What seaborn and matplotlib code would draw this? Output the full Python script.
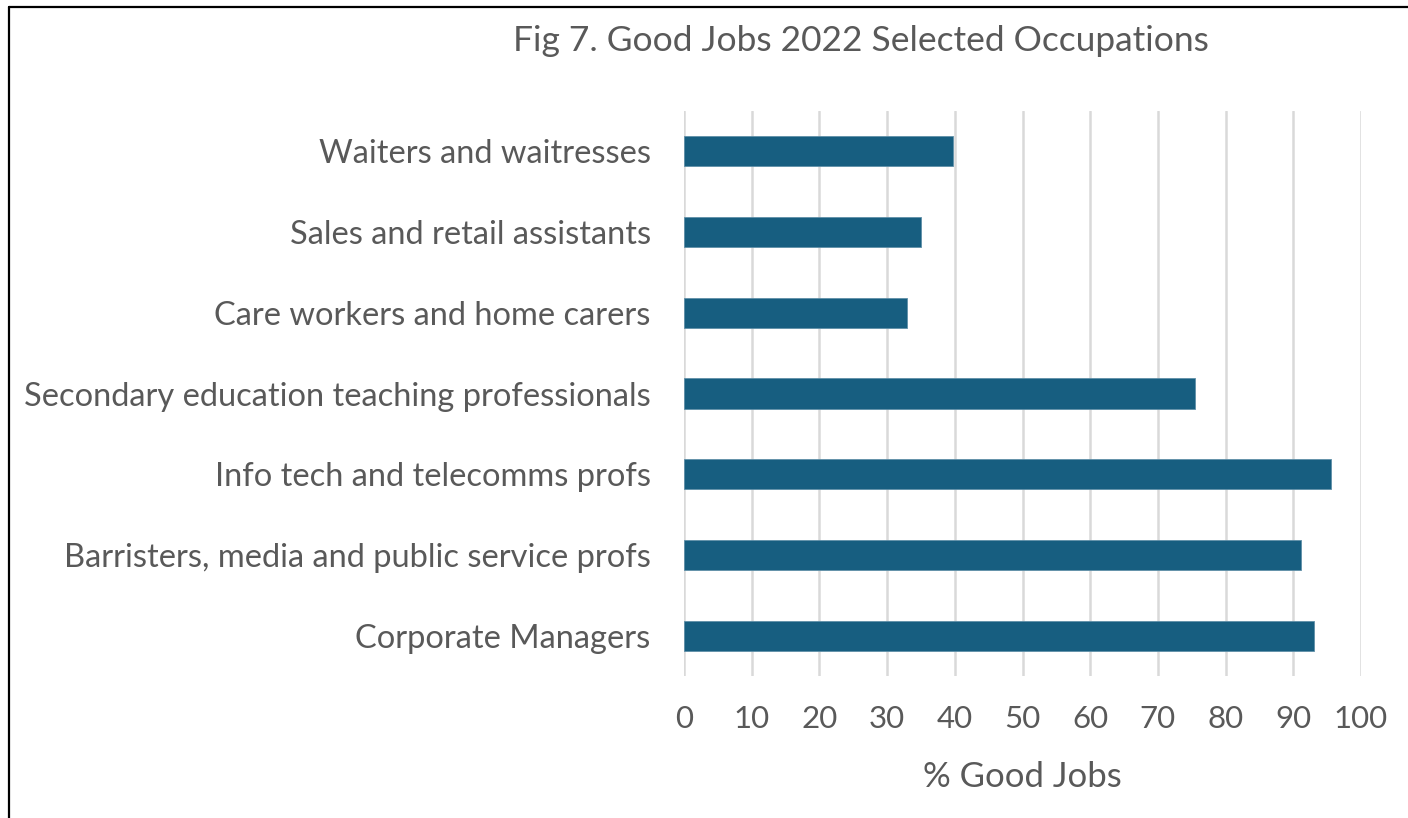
import pandas as pd
import matplotlib.pyplot as plt
from matplotlib.lines import Line2D
import seaborn as sns

# Chart data
occupations = [
    "Waiters and waitresses",
    "Sales and retail assistants",
    "Care workers and home carers",
    "Secondary education teaching professionals",
    "Info tech and telecomms profs",
    "Barristers, media and public service profs",
    "Corporate Managers",
]
good_jobs_pct = [39.7, 35.0, 32.9, 75.5, 95.6, 91.1, 93.1]
x_ticks = [0, 10, 20, 30, 40, 50, 60, 70, 80, 90, 100]

df = pd.DataFrame({"Occupation": occupations, "Good": good_jobs_pct})

sns.set_style("white")
plt.rcParams['font.family'] = ['Lato', 'DejaVu Sans']

text_grey = "#595959"
grid_grey = "#d9d9d9"
bar_blue = "#175e80"

fig = plt.figure(figsize=(14.08, 8.18), dpi=100)
ax = fig.add_axes([684 / 1408, 1 - 676 / 818, (1361 - 684) / 1408, (676 - 111) / 818])

sns.barplot(data=df, x="Good", y="Occupation", color=bar_blue, width=0.375,
            saturation=1, ax=ax, edgecolor="#5f8fa8", linewidth=0.6)

ax.set_xlim(0, 100)
ax.set_xticks(x_ticks)
ax.xaxis.grid(True, color=grid_grey, linewidth=1.8)
ax.set_axisbelow(True)
for s in ax.spines.values():
    s.set_visible(False)

ax.tick_params(axis="x", length=8, width=1.8, color=grid_grey, pad=13,
               labelsize=22.5, labelcolor=text_grey)
ax.tick_params(axis="y", length=0, pad=24, labelsize=23.5, labelcolor=text_grey)
ax.set_ylabel("")
ax.set_xlabel("% Good Jobs", fontsize=25, color=text_grey, labelpad=20)

fig.text(861 / 1408, 1 - 41 / 818, "Fig 7. Good Jobs 2022 Selected Occupations",
         ha="center", va="center", fontsize=25.5, color=text_grey)

# frame lines (top and left)
fig.add_artist(Line2D([8.5 / 1408, 1], [1 - 6.5 / 818, 1 - 6.5 / 818],
                      color="black", linewidth=1.6, transform=fig.transFigure))
fig.add_artist(Line2D([8.5 / 1408, 8.5 / 1408], [0, 1 - 6.5 / 818],
                      color="black", linewidth=1.6, transform=fig.transFigure))

plt.savefig("out.png", dpi=100, facecolor="white")
